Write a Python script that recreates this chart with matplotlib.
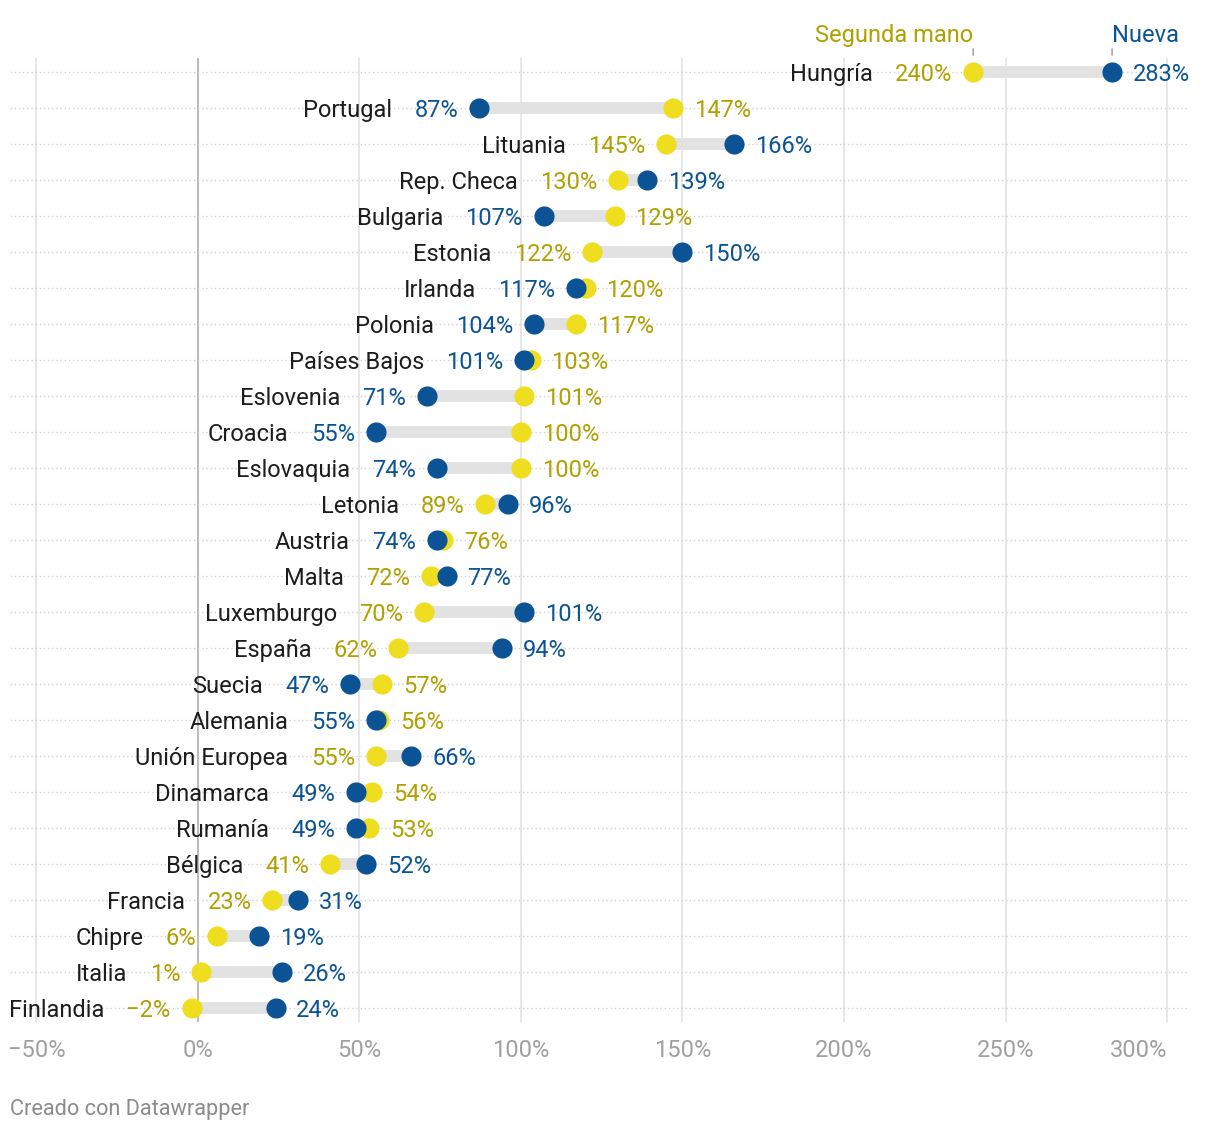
import matplotlib.pyplot as plt

# data (ordered top to bottom)
paises = ["Hungría", "Portugal", "Lituania", "Rep. Checa", "Bulgaria", "Estonia",
          "Irlanda", "Polonia", "Países Bajos", "Eslovenia", "Croacia", "Eslovaquia",
          "Letonia", "Austria", "Malta", "Luxemburgo", "España", "Suecia", "Alemania",
          "Unión Europea", "Dinamarca", "Rumanía", "Bélgica", "Francia", "Chipre",
          "Italia", "Finlandia"]
segunda_mano = [240, 147, 145, 130, 129, 122, 120, 117, 103, 101, 100, 100, 89, 76,
                72, 70, 62, 57, 56, 55, 54, 53, 41, 23, 6, 1, -2]
nueva = [283, 87, 166, 139, 107, 150, 117, 104, 101, 71, 55, 74, 96, 74, 77, 101,
         94, 47, 55, 66, 49, 49, 52, 31, 19, 26, 24]
x_ticks = [-50, 0, 50, 100, 150, 200, 250, 300]

# colours
AZUL = "#0b5394"
AMARILLO = "#efdd1f"
AMARILLO_TXT = "#b0a000"
GRIS_BARRA = "#e2e2e2"
FS = 17

plt.rcParams["font.family"] = ["Roboto", "DejaVu Sans"]

fig = plt.figure(figsize=(12.2, 11.34), dpi=100)
ax = fig.add_axes([10 / 1220, 1 - 1022 / 1134, 1178 / 1220, 964 / 1134])

n = len(paises)
ax.set_xlim(-58.2, 306.5)
ax.set_ylim(n - 1 + 14 / 36, -14 / 36)

# vertical grid
for t in x_ticks:
    if t == 0:
        ax.axvline(t, color="#bdbdbd", lw=1.5, zorder=0)
    else:
        ax.axvline(t, color="#e3e3e3", lw=1.2, zorder=0)

def fmt(v):
    return ("\u2212" if v < 0 else "") + f"{abs(v)}%"

for i, name in enumerate(paises):
    s = segunda_mano[i]
    nv = nueva[i]
    # dotted row line
    ax.axhline(i, color="#d0d0d0", lw=1.0, ls=(0, (1, 2)), zorder=0.5)
    ax.plot([s, nv], [i, i], color=GRIS_BARRA, lw=8.5, solid_capstyle="butt", zorder=1)
    ax.plot(s, i, "o", ms=14.5, color=AMARILLO, mec="none", zorder=2)
    ax.plot(nv, i, "o", ms=14.5, color=AZUL, mec="none", zorder=3)

    if s <= nv:
        lo, lo_c, hi, hi_c = s, AMARILLO_TXT, nv, AZUL
    else:
        lo, lo_c, hi, hi_c = nv, AZUL, s, AMARILLO_TXT

    left_lbl = ax.annotate(fmt(lo), xy=(lo, i), xytext=(-15, 0), textcoords="offset points",
                           ha="right", va="center_baseline", fontsize=FS, color=lo_c)
    ax.annotate(fmt(hi), xy=(hi, i), xytext=(15, 0), textcoords="offset points",
                ha="left", va="center_baseline", fontsize=FS, color=hi_c)
    ax.annotate(name, xy=(0, i), xycoords=(left_lbl, "data"), xytext=(-16, 0),
                textcoords="offset points", ha="right", va="center_baseline",
                fontsize=FS, color="#1d1d1d")

# series headers above first row
ax.annotate("", xy=(segunda_mano[0], -0.39), xytext=(segunda_mano[0], -0.72),
            annotation_clip=False, arrowprops=dict(arrowstyle="-", color="#999999", lw=1))
ax.annotate("", xy=(nueva[0], -0.39), xytext=(nueva[0], -0.72),
            annotation_clip=False, arrowprops=dict(arrowstyle="-", color="#999999", lw=1))
ax.text(segunda_mano[0], -0.84, "Segunda mano", ha="right", va="baseline", fontsize=FS,
        color=AMARILLO_TXT, clip_on=False)
ax.text(nueva[0], -0.84, "Nueva", ha="left", va="baseline", fontsize=FS,
        color=AZUL, clip_on=False)

# x axis
ax.set_xticks(x_ticks)
ax.set_xticklabels([fmt(t) for t in x_ticks])
ax.tick_params(axis="x", length=0, pad=12, labelsize=FS, labelcolor="#a0a0a0")
ax.get_xticklabels()[-1].set_ha("right")
ax.set_yticks([])
for sp in ax.spines.values():
    sp.set_visible(False)

fig.text(10 / 1220, 1 - 1110 / 1134, "Creado con Datawrapper", ha="left", va="center",
         fontsize=15.7, color="#8c8c8c")

fig.savefig("out.png", dpi=100)
